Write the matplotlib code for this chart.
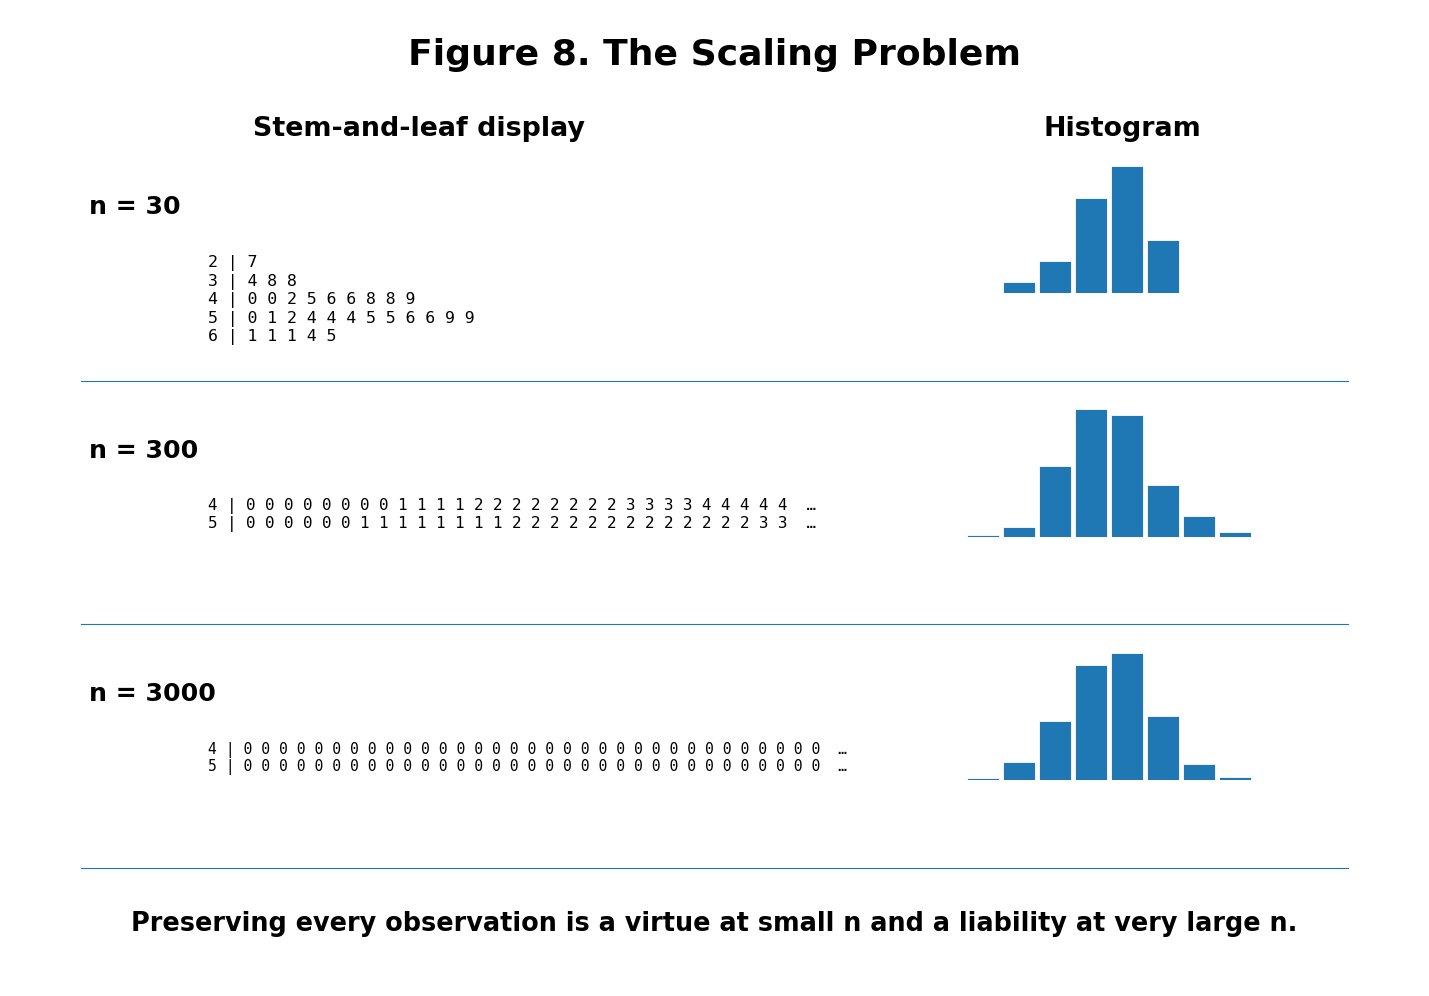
import matplotlib
matplotlib.use("Agg")
import matplotlib.pyplot as plt
import numpy as np

W, H = 1429, 996

# ---------------- data ----------------
row_labels = ["n = 30", "n = 300", "n = 3000"]

stems_30 = [2, 3, 4, 5, 6]
leaves_30 = [
    [7],
    [4, 8, 8],
    [0, 0, 2, 5, 6, 6, 8, 8, 9],
    [0, 1, 2, 4, 4, 4, 5, 5, 6, 6, 9, 9],
    [1, 1, 1, 4, 5],
]

stems_300 = [4, 5]
leaves_300 = [
    [0, 0, 0, 0, 0, 0, 0, 0, 1, 1, 1, 1, 2, 2, 2, 2, 2, 2, 2, 2, 3, 3, 3, 3, 4, 4, 4, 4, 4],
    [0, 0, 0, 0, 0, 0, 1, 1, 1, 1, 1, 1, 1, 1, 2, 2, 2, 2, 2, 2, 2, 2, 2, 2, 2, 2, 2, 3, 3],
]

stems_3000 = [4, 5]
leaves_3000 = [
    "000000000000000000000000000000000",
    "000000000000000000000000000000000",
]
truncated = [False, True, True]

hist_bins = [1, 2, 3, 4, 5, 6, 7, 8]
counts_30 = [0, 1, 3, 9, 12, 5, 0, 0]
counts_300 = [1, 7, 52, 94, 90, 38, 15, 3]
counts_3000 = [17, 136, 433, 852, 940, 476, 121, 25]

title = "Figure 8. The Scaling Problem"
col_titles = ["Stem-and-leaf display", "Histogram"]
footer = "Preserving every observation is a virtue at small n and a liability at very large n."

# ---------------- figure ----------------
fig = plt.figure(figsize=(W / 100, H / 100), dpi=100)
fig.patch.set_facecolor("white")


def fx(px):
    return px / W


def fy(py):
    return 1 - py / H


blue = "#1f77b4"

fig.text(fx(714), fy(55), title, ha="center", va="center",
         fontsize=26, fontweight="bold", family="DejaVu Sans")
fig.text(fx(419), fy(129), col_titles[0], ha="center", va="center",
         fontsize=19.4, fontweight="bold", family="DejaVu Sans")
fig.text(fx(1122), fy(129), col_titles[1], ha="center", va="center",
         fontsize=19.4, fontweight="bold", family="DejaVu Sans")
fig.text(fx(714), fy(924), footer, ha="center", va="center",
         fontsize=18.4, fontweight="bold", family="DejaVu Sans")

row_tops = [137, 380.5, 624]
row_h = 243.7
stem_sets = [stems_30, stems_300, stems_3000]
leaf_sets = [leaves_30, leaves_300, leaves_3000]
count_sets = [counts_30, counts_300, counts_3000]
mono_sizes = [11.85, 11.4, 10.62]
line_sp = [1.215, 1.13, 1.12]

for i in range(3):
    top = row_tops[i]
    # row label
    fig.text(fx(89), fy(top + 70), row_labels[i], ha="left", va="center",
             fontsize=18.2, fontweight="bold", family="DejaVu Sans")
    # stem-and-leaf text
    lines = []
    for s, lv in zip(stem_sets[i], leaf_sets[i]):
        line = f"{s} | " + " ".join(str(d) for d in lv)
        if truncated[i]:
            line += "  \u2026"
        lines.append(line)
    fig.text(fx(208), fy(top + 118), "\n".join(lines), ha="left", va="top",
             fontsize=mono_sizes[i], family="DejaVu Sans Mono",
             linespacing=line_sp[i])
    # histogram
    base = top + 156
    ax = fig.add_axes([fx(929), fy(base), 360 / W, 127 / H])
    ax.bar(np.array(hist_bins) + 0.5, count_sets[i], width=0.88,
           color=blue, edgecolor="white", linewidth=0.6)
    ax.set_xlim(0, 10)
    ax.set_ylim(0, max(count_sets[i]))
    ax.axis("off")
    # separator
    sep_y = top + row_h
    fig.add_artist(plt.Line2D([fx(81), fx(1348)], [fy(sep_y), fy(sep_y)],
                              color=blue, linewidth=0.8,
                              transform=fig.transFigure))

fig.savefig("out.png", dpi=100, facecolor="white")
